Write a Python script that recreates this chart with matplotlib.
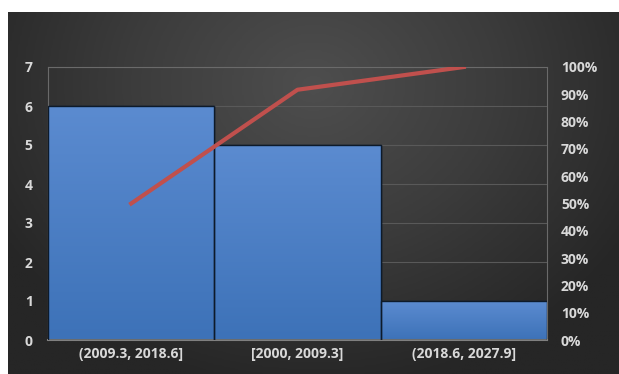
import numpy as np
import matplotlib.pyplot as plt
from matplotlib.ticker import PercentFormatter
from matplotlib.colors import LinearSegmentedColormap

categories = ['(2009.3, 2018.6]', '[2000, 2009.3]', '(2018.6, 2027.9]']
counts = [6, 5, 1]
cum_pct = [50.0, 91.67, 100.0]

txt = '#d9d9d9'
plt.rcParams['font.family'] = ['Open Sans', 'DejaVu Sans']
plt.rcParams['font.weight'] = 'bold'

fig = plt.figure(figsize=(6.19, 3.74), dpi=100)
fig.patch.set_facecolor('white')

# dark radial background of the chart area
bg = fig.add_axes([8 / 619, 0, 1 - 8 / 619, 1 - 12 / 374])
yy, xx = np.mgrid[-1:1:200j, -1:1:300j]
r = np.clip(np.sqrt(xx ** 2 + (yy + 0.6) ** 2 * 0.5) / 1.2, 0, 1)
bgcm = LinearSegmentedColormap.from_list('bg', ['#4e4e4e', '#3c3c3c', '#262626'])
bg.imshow(r, cmap=bgcm, vmin=0, vmax=1, aspect='auto', extent=[0, 1, 0, 1])
bg.set_axis_off()

ax = fig.add_axes([48 / 619, 34 / 374, 499 / 619, 273 / 374])
ax.set_facecolor('none')
x = np.arange(len(categories))
bars = ax.bar(x, counts, width=1.0, color='#4a7ec4', edgecolor='#0d1a2a', linewidth=1, zorder=2)

# vertical gradient inside bars
grad = np.linspace(0, 1, 100).reshape(-1, 1)
cm = LinearSegmentedColormap.from_list('b', ['#3d72b8', '#5b8bd0'])
for b in bars:
    im = ax.imshow(grad, cmap=cm, aspect='auto', origin='lower',
                   extent=[b.get_x(), b.get_x() + b.get_width(), 0, b.get_height()], zorder=2.5)
    im.set_clip_path(b)
    ax.add_patch(plt.Rectangle((b.get_x(), 0), b.get_width(), b.get_height(),
                               fill=False, edgecolor='#0d1a2a', linewidth=1, zorder=3))

ax.set_xlim(-0.5, 2.5)
ax.set_ylim(0, 7)
ax.set_yticks(range(8))
ax.set_xticks(x)
ax.set_xticklabels(categories)
ax.grid(axis='y', color='#595959', linewidth=0.8, zorder=0)
for s in ['left', 'right', 'top']:
    ax.spines[s].set_color('#6a6a6a')
ax.spines['bottom'].set_color('#808080')
ax.spines['bottom'].set_linewidth(1.5)
ax.tick_params(length=0, colors=txt, labelsize=10)
ax.tick_params(axis='y', pad=11)
ax.tick_params(axis='x', pad=5)

ax2 = ax.twinx()
ax2.plot(x, cum_pct, color='#c0504d', linewidth=3, zorder=5)
ax2.set_ylim(0, 100)
ax2.set_yticks(range(0, 101, 10))
ax2.yaxis.set_major_formatter(PercentFormatter(decimals=0))
ax2.tick_params(length=0, colors=txt, labelsize=10, pad=10)
for s in ax2.spines.values():
    s.set_visible(False)

fig.savefig('out.png', dpi=100)
